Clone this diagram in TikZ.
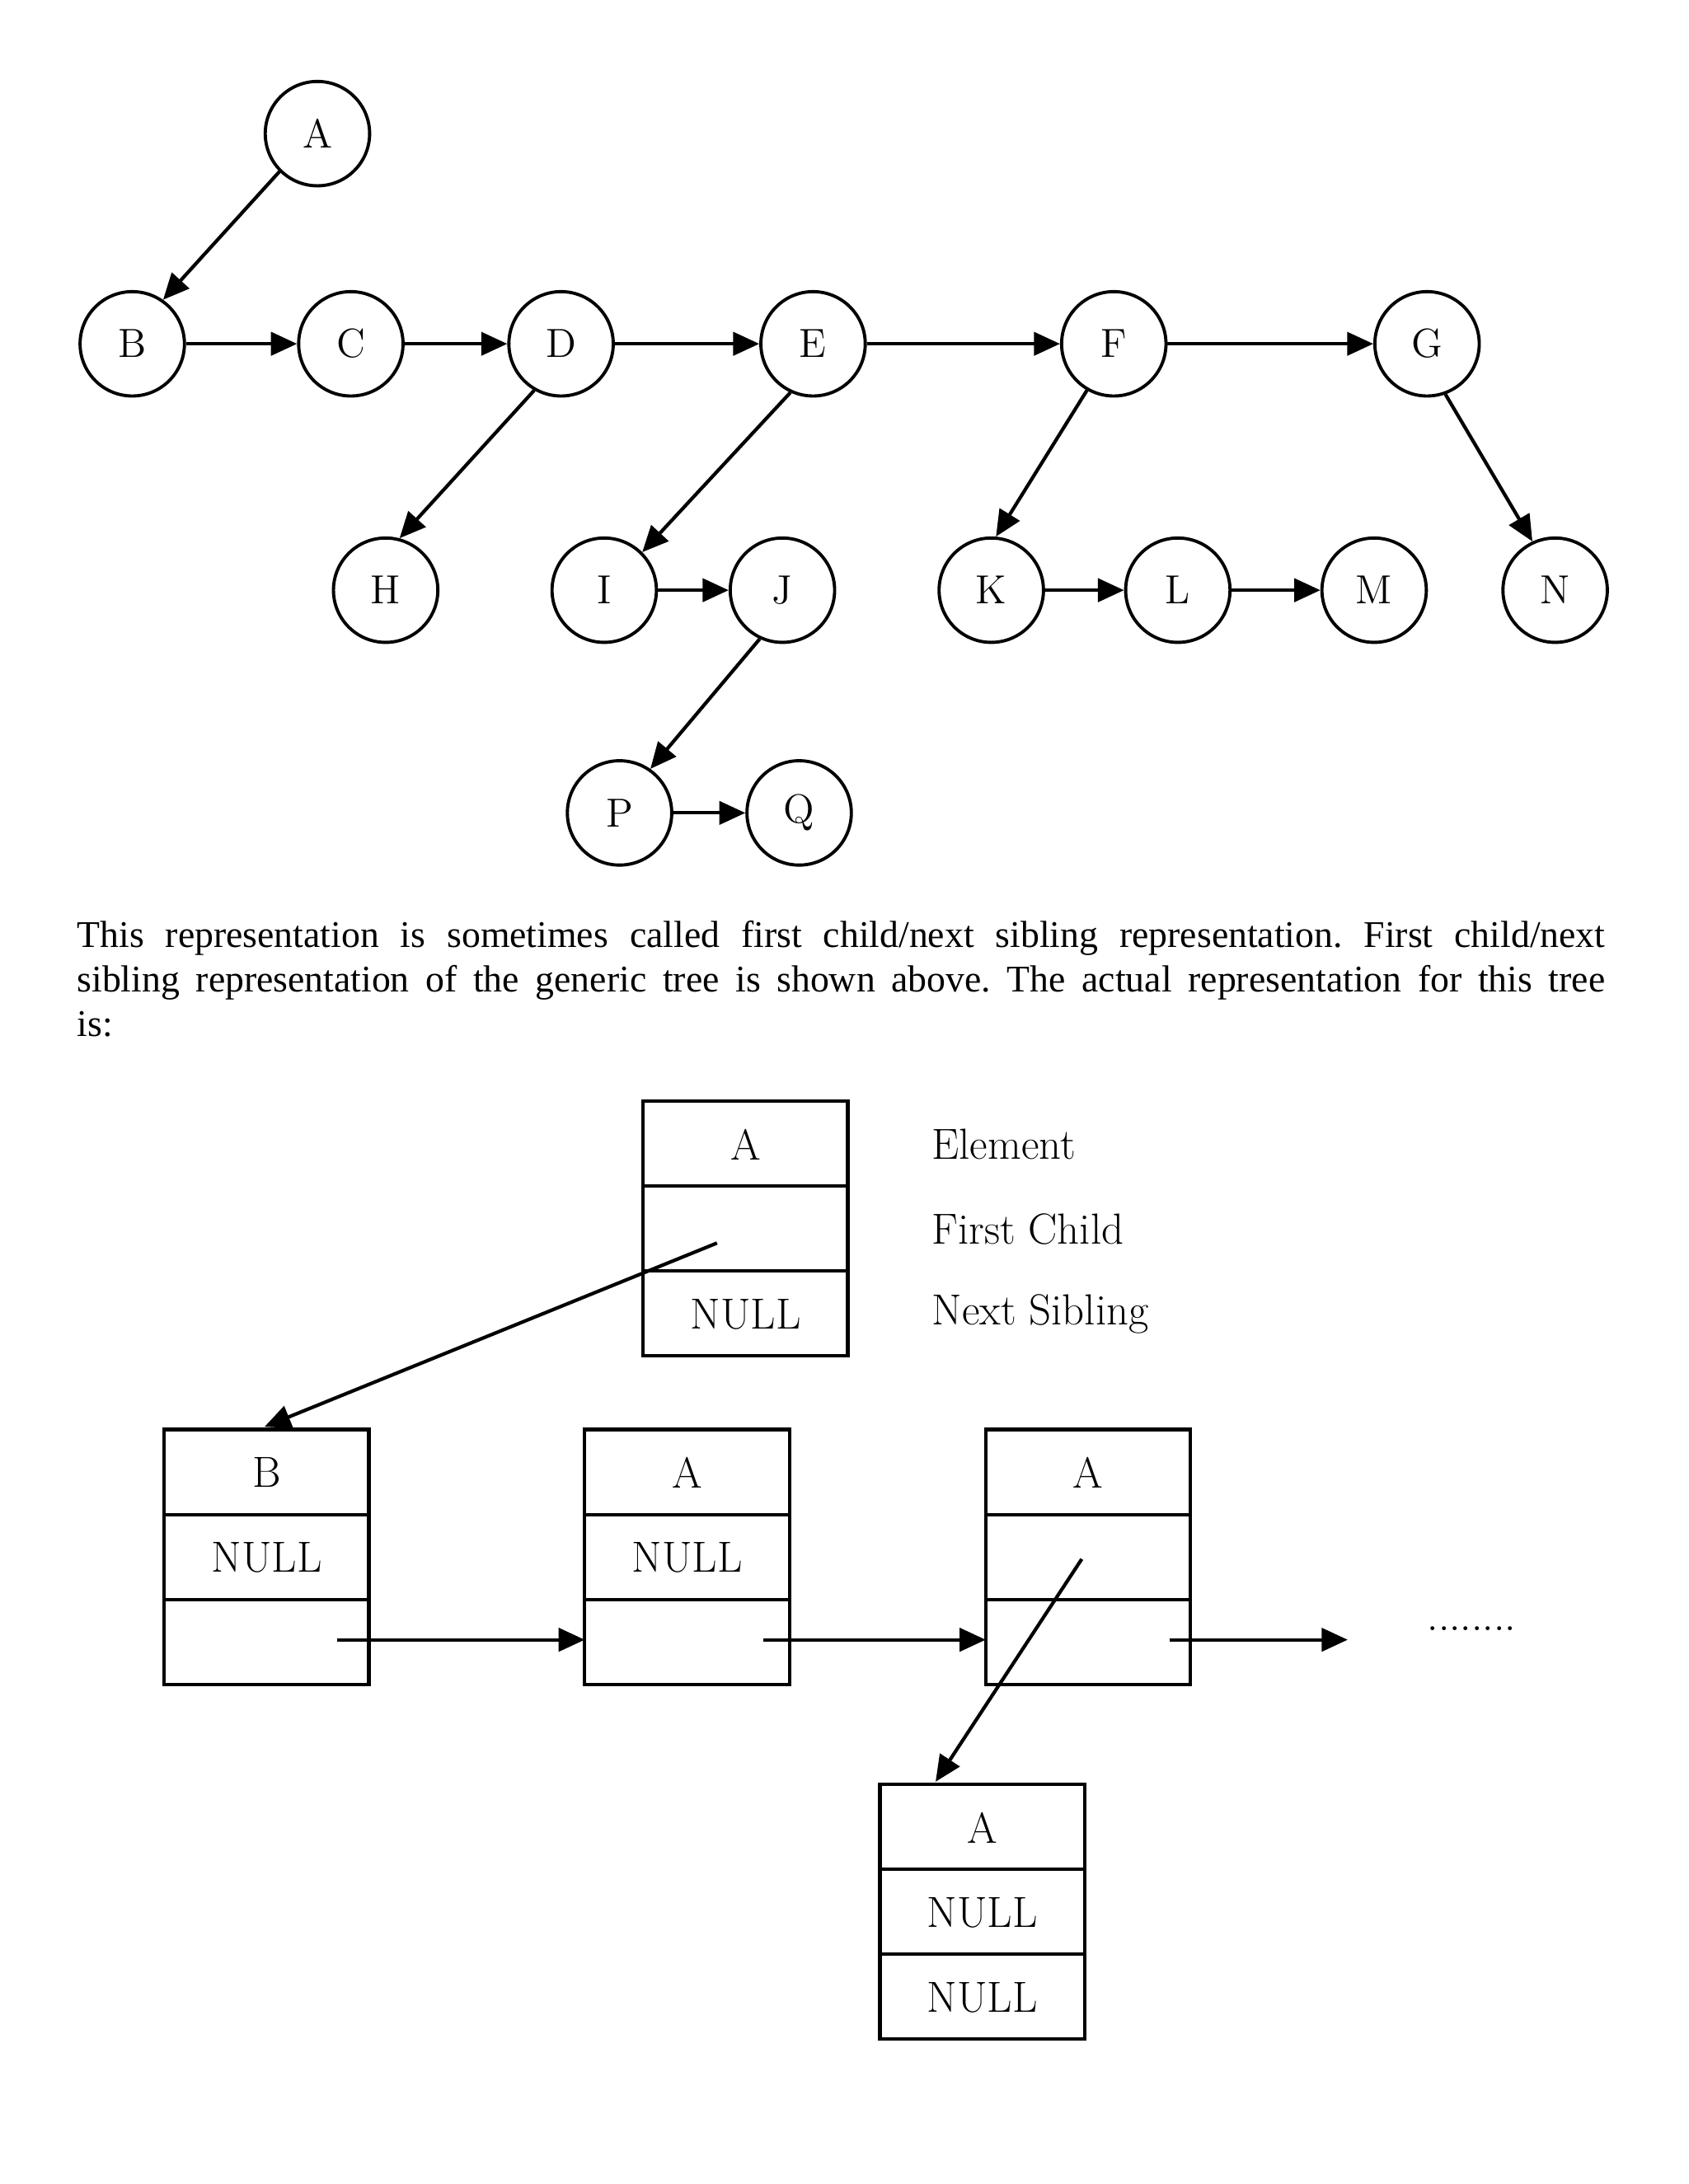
\documentclass[tikz,border=0pt]{standalone}
\usepackage{fontspec}
\setmainfont{Liberation Serif}
\newfontfamily\diag{Latin Modern Roman}
\usetikzlibrary{arrows.meta}
\begin{document}
\begin{tikzpicture}[x=0.01688cm,y=-0.01688cm,
  cn/.style={circle,draw,line width=1.1pt,minimum size=36pt,inner sep=0pt,font=\diag\fontsize{14}{14}\selectfont},
  ar/.style={line width=1.2pt,-{Triangle[length=9pt,width=8pt]}},
  bx/.style={draw,line width=1.2pt},
  bt/.style={font=\diag\fontsize{15}{15}\selectfont},
  lb/.style={font=\diag\fontsize{15}{15}\selectfont,anchor=west}]
\useasboundingbox[fill=white] (0,0) rectangle (1213,1569);
% tree
\foreach \n/\x/\y in {A/228/96,B/95/247,C/252/247,D/403/247,E/584/247,F/800/247,G/1025/247,H/277/424,I/434/424,J/562/424,K/712/424,L/846/424,M/987/424,N/1117/424,P/445/584,Q/574/584}
  \node[cn] (\n) at (\x,\y) {\n};
\foreach \a/\b in {B/C,C/D,D/E,E/F,F/G,I/J,K/L,L/M,P/Q}
  \draw[ar] (\a) -- (\b);
\draw[ar] (A.225) -- (B.55);
\draw[ar] (D.240) -- (H.75);
\draw[ar] (E.245) -- (I.45);
\draw[ar] (F.240) -- (K.85);
\draw[ar] (G.290) -- (N.115);
\draw[ar] (J.245) -- (P.55);
% paragraph
\node[anchor=north west,inner sep=0pt,text width=527pt,align=justify,font=\fontsize{13}{15.4}\selectfont\frenchspacing] (para) at (55,661)
{This representation is sometimes called first child/next sibling representation. First child/next\linebreak sibling representation of the generic tree is shown above. The actual representation for this tree\linebreak is:};
% boxes
\newcommand\membox[6]{% name, x0, y0, t1, t2, t3
  \draw[bx] (#2,#3) rectangle ++(147,183);
  \draw[bx] (#2,#3+61) -- ++(147,0);
  \draw[bx] (#2,#3+122) -- ++(147,0);
  \node[bt] (#1a) at (#2+73.5,#3+31) {#4};
  \node[bt] (#1b) at (#2+73.5,#3+92) {#5};
  \node[bt] (#1c) at (#2+73.5,#3+153) {#6};
  \coordinate (#1top) at (#2+73.5-1,#3);
  \coordinate (#1left) at (#2,#3+151);}
\membox{r}{462}{791}{A}{}{NULL}
\membox{b}{118}{1027}{B}{NULL}{}
\membox{c}{420}{1027}{A}{NULL}{}
\membox{d}{708}{1027}{A}{}{}
\membox{e}{632}{1282}{A}{NULL}{NULL}
\node[lb] (l1) at (662,822) {Element};
\node[lb] (l2) at (662,883) {First Child};
\node[lb] (l3) at (662,944) {Next Sibling};
\coordinate (s1) at (515,893);
\coordinate (t1) at (190,1025);
\draw[ar] (s1) -- (t1);
\coordinate (s2) at (242,1178);
\draw[ar] (s2) -- (cleft);
\coordinate (s3) at (548,1178);
\draw[ar] (s3) -- (dleft);
\coordinate (s4) at (840,1178);
\coordinate (t4) at (968,1178);
\draw[ar] (s4) -- (t4);
\node[font=\diag\fontsize{14}{14}\selectfont] (dots) at (1057,1170) {........};
\coordinate (s5) at (777,1120);
\coordinate (t5) at (672,1280);
\draw[ar] (s5) -- (t5);
\end{tikzpicture}
\end{document}
